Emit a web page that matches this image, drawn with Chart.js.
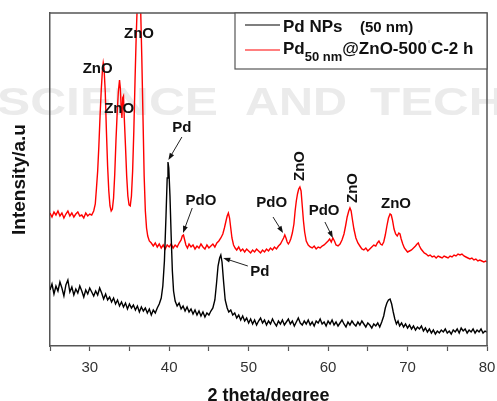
<!DOCTYPE html>
<html>
<head>
<meta charset="utf-8">
<title>XRD - Pd NPs and Pd@ZnO</title>
<script src="https://cdn.jsdelivr.net/npm/chart.js@4.4.1/dist/chart.umd.min.js"></script>
<style>
  html, body { margin: 0; padding: 0; background: #fff; }
  #wrap { width: 497px; height: 401px; }
</style>
</head>
<body>
<div id="wrap"><canvas id="xrd" width="497" height="401"></canvas></div>
<script>
// [2 theta (deg), intensity (a.u.)]
const pdNps = [
  [25.0,56],[25.25,62],[25.5,52],[25.75,60],[26.0,55],[26.25,64],[26.5,58],[26.75,50],
  [27.0,61],[27.25,66],[27.5,54],[27.75,59],[28.0,51],[28.25,57],[28.5,53],[28.75,60],
  [29.0,55],[29.25,49],[29.5,56],[29.75,52],[30.0,58],[30.25,54],[30.5,50],[30.75,55],
  [31.0,51],[31.25,58],[31.5,53],[31.75,47],[32.0,52],[32.25,46],[32.5,49],[32.75,44],
  [33.0,48],[33.25,42],[33.5,46],[33.75,40],[34.0,44],[34.25,39],[34.5,43],[34.75,37],
  [35.0,42],[35.25,38],[35.5,41],[35.75,36],[36.0,40],[36.25,34],[36.5,39],[36.75,35],
  [37.0,38],[37.25,33],[37.5,37],[37.75,31],[38.0,36],[38.25,33],[38.5,38],[38.75,42],
  [39.0,48],[39.2,60],[39.4,85],[39.6,130],[39.75,168],[39.85,184],[39.95,178],[40.1,150],
  [40.25,110],[40.4,75],[40.55,55],[40.75,45],[41.0,40],[41.25,43],[41.5,37],[41.75,40],
  [42.0,35],[42.25,39],[42.5,34],[42.75,37],[43.0,32],[43.25,36],[43.5,31],[43.75,35],
  [44.0,30],[44.25,34],[44.5,29],[44.75,33],[45.0,31],[45.25,35],[45.5,38],[45.75,46],
  [45.95,62],[46.15,80],[46.35,88],[46.5,91],[46.65,84],[46.85,64],[47.05,46],[47.3,38],
  [47.5,34],[47.75,36],[48.0,31],[48.25,33],[48.5,28],[48.75,31],[49.0,26],[49.25,30],
  [49.5,25],[49.75,28],[50.0,23],[50.25,27],[50.5,22],[50.75,26],[51.0,21],[51.25,25],
  [51.5,28],[51.75,23],[52.0,26],[52.25,21],[52.5,25],[52.75,22],[53.0,27],[53.25,23],
  [53.5,20],[53.75,25],[54.0,22],[54.25,26],[54.5,21],[54.75,24],[55.0,27],[55.25,22],
  [55.5,25],[55.75,20],[56.0,24],[56.25,28],[56.5,23],[56.75,21],[57.0,25],[57.25,22],
  [57.5,26],[57.75,21],[58.0,24],[58.25,20],[58.5,25],[58.75,23],[59.0,27],[59.25,22],
  [59.5,24],[59.75,20],[60.0,25],[60.25,22],[60.5,26],[60.75,21],[61.0,24],[61.25,20],
  [61.5,23],[61.75,26],[62.0,22],[62.25,19],[62.5,24],[62.75,21],[63.0,25],[63.25,22],
  [63.5,20],[63.75,24],[64.0,21],[64.25,25],[64.5,22],[64.75,19],[65.0,23],[65.25,21],
  [65.5,18],[65.75,22],[66.0,20],[66.25,23],[66.5,19],[66.75,24],[67.0,30],[67.2,38],
  [67.4,43],[67.6,46],[67.8,47],[68.0,42],[68.2,34],[68.4,27],[68.6,22],[68.8,25],
  [69.0,20],[69.25,23],[69.5,19],[69.75,22],[70.0,18],[70.25,21],[70.5,17],[70.75,20],
  [71.0,16],[71.25,19],[71.5,17],[71.75,20],[72.0,15],[72.25,18],[72.5,14],[72.75,17],
  [73.0,13],[73.25,16],[73.5,12],[73.75,15],[74.0,13],[74.25,16],[74.5,14],[74.75,17],
  [75.0,13],[75.25,15],[75.5,12],[75.75,16],[76.0,14],[76.25,17],[76.5,13],[76.75,18],
  [77.0,15],[77.25,17],[77.5,13],[77.75,16],[78.0,14],[78.25,17],[78.5,13],[78.75,16],
  [79.0,14],[79.25,17],[79.5,13],[79.75,15],[80.0,14]
];

const pdZnO = [
  [25.0,133],[25.25,129],[25.5,134],[25.75,131],[26.0,135],[26.25,130],[26.5,133],[26.75,128],
  [27.0,132],[27.25,135],[27.5,130],[27.75,133],[28.0,129],[28.25,132],[28.5,134],[28.75,130],
  [29.0,131],[29.25,128],[29.5,133],[29.75,130],[30.0,132],[30.25,131],[30.5,135],[30.7,142],
  [30.85,158],[31.0,175],[31.15,200],[31.3,230],[31.45,256],[31.6,276],[31.7,283],[31.8,278],
  [31.95,255],[32.1,215],[32.25,180],[32.4,155],[32.55,140],[32.7,135],[32.85,137],[33.0,148],
  [33.15,172],[33.3,205],[33.45,232],[33.6,254],[33.75,266],[33.85,258],[33.95,240],[34.05,228],
  [34.15,248],[34.25,250],[34.35,228],[34.5,200],[34.65,170],[34.8,150],[34.95,141],[35.1,140],
  [35.25,150],[35.4,175],[35.55,215],[35.7,265],[35.85,310],[36.0,345],[36.15,360],[36.25,362],
  [36.4,340],[36.55,290],[36.7,230],[36.85,170],[37.0,135],[37.15,118],[37.3,110],[37.5,105],
  [37.75,103],[38.0,100],[38.25,103],[38.5,99],[38.75,102],[39.0,98],[39.25,101],[39.5,97],
  [39.75,101],[40.0,99],[40.25,102],[40.5,98],[40.75,101],[41.0,99],[41.25,103],[41.5,106],
  [41.65,110],[41.8,111],[41.95,106],[42.1,101],[42.3,98],[42.5,102],[42.75,99],[43.0,101],
  [43.25,97],[43.5,100],[43.75,98],[44.0,102],[44.25,99],[44.5,97],[44.75,101],[45.0,98],
  [45.25,100],[45.5,102],[45.75,99],[46.0,103],[46.25,105],[46.5,108],[46.75,112],[46.95,118],
  [47.15,125],[47.3,130],[47.45,133],[47.6,128],[47.75,118],[47.9,108],[48.1,101],[48.3,98],
  [48.5,96],[48.75,99],[49.0,95],[49.25,97],[49.5,94],[49.75,97],[50.0,95],[50.25,93],
  [50.5,96],[50.75,94],[51.0,97],[51.25,95],[51.5,93],[51.75,96],[52.0,94],[52.25,97],
  [52.5,95],[52.75,98],[53.0,96],[53.25,99],[53.5,97],[53.75,100],[54.0,102],[54.2,105],
  [54.4,108],[54.55,111],[54.7,108],[54.85,104],[55.0,102],[55.15,104],[55.3,107],[55.5,113],
  [55.7,122],[55.85,135],[56.0,145],[56.15,152],[56.3,157],[56.45,159],[56.6,155],[56.75,140],
  [56.9,125],[57.05,114],[57.25,105],[57.5,101],[57.75,99],[58.0,98],[58.25,100],[58.5,97],
  [58.75,99],[59.0,98],[59.25,100],[59.5,101],[59.75,103],[60.0,105],[60.2,107],[60.4,104],
  [60.6,108],[60.8,105],[61.0,101],[61.25,100],[61.5,102],[61.75,106],[62.0,112],[62.2,120],
  [62.4,129],[62.6,135],[62.75,138],[62.9,135],[63.05,127],[63.25,117],[63.5,108],[63.75,103],
  [64.0,100],[64.25,97],[64.5,96],[64.75,98],[65.0,95],[65.25,97],[65.5,99],[65.75,101],
  [66.0,100],[66.2,103],[66.4,105],[66.6,102],[66.8,101],[67.0,104],[67.2,111],[67.4,120],
  [67.6,128],[67.8,132],[67.95,131],[68.1,126],[68.3,117],[68.5,112],[68.7,110],[68.9,113],
  [69.05,112],[69.2,107],[69.4,102],[69.6,98],[69.8,96],[70.0,94],[70.25,95],[70.5,96],
  [70.75,98],[71.0,100],[71.2,102],[71.35,103],[71.5,100],[71.7,97],[71.9,95],[72.1,93],
  [72.35,92],[72.6,90],[72.85,91],[73.1,89],[73.35,90],[73.6,88],[73.85,90],[74.1,89],
  [74.35,88],[74.6,90],[74.85,89],[75.1,88],[75.35,90],[75.6,89],[75.85,91],[76.1,90],
  [76.35,92],[76.6,91],[76.85,92],[77.1,90],[77.35,89],[77.6,88],[77.85,87],[78.1,88],
  [78.35,86],[78.6,87],[78.85,85],[79.1,86],[79.35,85],[79.6,84],[79.85,85],[80.0,84]
];

const xTickLabels = [30, 40, 50, 60, 70, 80];

// phase labels, placed in data units (2 theta, intensity)
const peakLabels = [
  { text: 'ZnO', x: 31.0, y: 277 },
  { text: 'ZnO', x: 33.7, y: 237 },
  { text: 'ZnO', x: 36.2, y: 312 },
  { text: 'Pd',  x: 41.6, y: 218 },
  { text: 'PdO', x: 44.0, y: 145 },
  { text: 'Pd',  x: 51.4, y: 74 },
  { text: 'PdO', x: 52.9, y: 143 },
  { text: 'ZnO', x: 56.5, y: 180, vertical: true },
  { text: 'PdO', x: 59.5, y: 135 },
  { text: 'ZnO', x: 63.1, y: 158, vertical: true },
  { text: 'ZnO', x: 68.55, y: 142 }
];
// arrows: from (x1,y1) to peak (x2,y2)
const peakArrows = [
  [41.6, 209, 39.9, 186],
  [42.9, 138, 41.74, 113],
  [49.9, 80, 46.8, 88],
  [53.07, 129, 54.33, 113],
  [59.6, 124, 60.6, 108]
];

const FONT = "'Liberation Sans', Arial, sans-serif";

// light grey publisher watermark behind the plot
const watermark = {
  id: 'watermark',
  beforeDraw(chart) {
    const ctx = chart.ctx;
    ctx.save();
    ctx.fillStyle = '#ebebeb';
    ctx.font = 'bold 38px ' + FONT;
    ctx.textBaseline = 'alphabetic';
    [['SCIENCE', -3, 218], ['AND', 245, 347], ['TECHNOLOGY', 370, null]].forEach(w => {
      const m = ctx.measureText(w[0]).width;
      const sx = w[2] ? (w[2] - w[1]) / m : 1.3;
      ctx.save();
      ctx.translate(w[1], 115);
      ctx.scale(sx, 1);
      ctx.fillText(w[0], 0, 0);
      ctx.restore();
    });
    ctx.restore();
  }
};

function arrow(ctx, x1, y1, x2, y2) {
  const a = Math.atan2(y2 - y1, x2 - x1);
  ctx.beginPath();
  ctx.moveTo(x1, y1);
  ctx.lineTo(x2 - 5 * Math.cos(a), y2 - 5 * Math.sin(a));
  ctx.stroke();
  ctx.beginPath();
  ctx.moveTo(x2, y2);
  ctx.lineTo(x2 - 7 * Math.cos(a) + 2.5 * Math.sin(a), y2 - 7 * Math.sin(a) - 2.5 * Math.cos(a));
  ctx.lineTo(x2 - 7 * Math.cos(a) - 2.5 * Math.sin(a), y2 - 7 * Math.sin(a) + 2.5 * Math.cos(a));
  ctx.closePath();
  ctx.fill();
}

// frame, peak labels and the legend box
const extras = {
  id: 'extras',
  afterDraw(chart) {
    const ctx = chart.ctx, a = chart.chartArea;
    const sx = chart.scales.x, sy = chart.scales.y;
    ctx.save();
    ctx.strokeStyle = '#555';
    ctx.lineWidth = 1.5;
    ctx.beginPath();
    ctx.moveTo(a.left, a.top); ctx.lineTo(a.right, a.top); ctx.lineTo(a.right, a.bottom);
    ctx.stroke();

    ctx.fillStyle = '#111';
    ctx.strokeStyle = '#222';
    ctx.lineWidth = 1;
    ctx.font = 'bold 15px ' + FONT;
    ctx.textAlign = 'center';
    ctx.textBaseline = 'middle';
    peakLabels.forEach(p => {
      const px = sx.getPixelForValue(p.x), py = sy.getPixelForValue(p.y);
      ctx.save();
      ctx.translate(px, py);
      if (p.vertical) ctx.rotate(-Math.PI / 2);
      ctx.fillText(p.text, 0, 0);
      ctx.restore();
    });
    peakArrows.forEach(r => {
      arrow(ctx, sx.getPixelForValue(r[0]), sy.getPixelForValue(r[1]),
        sx.getPixelForValue(r[2]), sy.getPixelForValue(r[3]));
    });

    // legend
    const L = 235, T = a.top, R = a.right, B = 69;
    ctx.fillStyle = '#fff';
    ctx.fillRect(L, T, R - L, B - T);
    ctx.strokeStyle = '#555';
    ctx.lineWidth = 1.2;
    ctx.strokeRect(L, T, R - L, B - T);
    const ds = chart.data.datasets;
    ctx.lineWidth = 1.2;
    ctx.strokeStyle = ds[0].borderColor;
    ctx.beginPath(); ctx.moveTo(245, 25); ctx.lineTo(280, 25); ctx.stroke();
    ctx.strokeStyle = ds[1].borderColor;
    ctx.beginPath(); ctx.moveTo(245, 50); ctx.lineTo(280, 50); ctx.stroke();

    ctx.textAlign = 'left';
    ctx.textBaseline = 'alphabetic';
    ctx.fillStyle = '#111';
    ctx.font = 'bold 17px ' + FONT;
    ctx.fillText('Pd NPs', 283, 32);
    ctx.font = 'bold 15px ' + FONT;
    ctx.fillText('(50 nm)', 360, 32);

    let x = 283;
    ctx.font = 'bold 17px ' + FONT;
    ctx.fillText('Pd', x, 54); x += ctx.measureText('Pd').width;
    ctx.font = 'bold 13px ' + FONT;
    ctx.fillText('50 nm', x, 61); x += ctx.measureText('50 nm').width;
    ctx.font = 'bold 17px ' + FONT;
    ctx.fillText('@ZnO-500', x, 54); x += ctx.measureText('@ZnO-500').width;
    ctx.fillStyle = '#999';
    ctx.font = '8px ' + FONT;
    ctx.fillText('°', x + 0.5, 46); x += 4;
    ctx.fillStyle = '#111';
    ctx.font = 'bold 17px ' + FONT;
    ctx.fillText('C-2 h', x, 54);
    ctx.restore();
  }
};

new Chart(document.getElementById('xrd'), {
  type: 'line',
  data: {
    datasets: [{
      label: 'Pd NPs (50 nm)',
      data: pdNps.map(p => ({ x: p[0], y: p[1] })),
      borderColor: '#000',
      borderWidth: 1.4,
      pointRadius: 0,
      tension: 0
    }, {
      label: 'Pd50 nm@ZnO-500°C-2 h',
      data: pdZnO.map(p => ({ x: p[0], y: p[1] })),
      borderColor: '#ff0000',
      borderWidth: 1.4,
      pointRadius: 0,
      tension: 0
    }]
  },
  options: {
    responsive: false,
    animation: false,
    devicePixelRatio: 1,
    layout: { padding: { top: 13, right: 10, left: 0, bottom: 0 } },
    plugins: { legend: { display: false }, tooltip: { enabled: false } },
    scales: {
      x: {
        type: 'linear', min: 25, max: 80,
        afterFit: s => { s.height = 55; s.paddingLeft = 0; s.paddingRight = 0; },
        ticks: {
          stepSize: 5, autoSkip: false, maxRotation: 0, padding: 8,
          color: '#333', font: { family: FONT, size: 15 },
          callback: v => xTickLabels.includes(v) ? v : ''
        },
        grid: { drawOnChartArea: false, tickLength: 5, color: '#555', tickWidth: 1.2 },
        border: { color: '#555', width: 1.5 },
        title: {
          display: true, text: '2 theta/degree', color: '#111', padding: 0,
          font: { family: FONT, size: 18, weight: 'bold', lineHeight: 0.5 }
        }
      },
      y: {
        min: 0, max: 333,
        afterFit: s => { s.width = 50; s.paddingTop = 0; s.paddingBottom = 0; },
        ticks: { display: false },
        grid: { display: false, drawTicks: false },
        border: { color: '#555', width: 1.5 },
        title: {
          display: true, text: 'Intensity/a.u', color: '#111', padding: { top: 10, bottom: 0 },
          font: { family: FONT, size: 19, weight: 'bold', lineHeight: 1 }
        }
      }
    }
  },
  plugins: [watermark, extras]
});
</script>
</body>
</html>
